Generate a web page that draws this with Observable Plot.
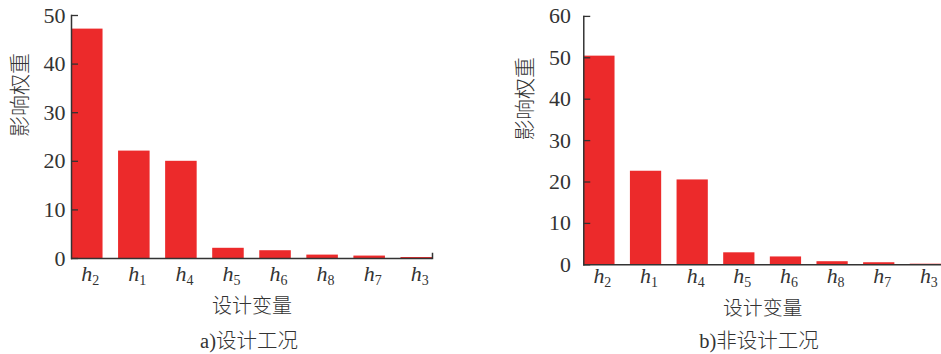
<!DOCTYPE html>
<html>
<head>
<meta charset="utf-8">
<script src="https://cdn.jsdelivr.net/npm/d3@7"></script>
<script src="https://cdn.jsdelivr.net/npm/@observablehq/plot@0.6"></script>
<style>
  html, body { margin: 0; padding: 0; background: #fff; }
  #wrap { position: relative; width: 941px; height: 354px; overflow: hidden; background: #fff; }
  .panel { position: absolute; top: 0; }
  .cap { position: absolute; top: 328px; font-size: 20.5px; line-height: 22px; color: #333; white-space: nowrap;
         transform: translateX(-50%); font-family: "Liberation Serif", "Noto Sans CJK SC", serif; }
  .cap .zh { font-family: "Noto Sans CJK SC", sans-serif; font-weight: 300; }
</style>
</head>
<body>
<div id="wrap">
  <div class="panel" id="pa" style="left:0px"></div>
  <div class="panel" id="pb" style="left:470px"></div>
  <div class="cap" style="left:249px">a)<span class="zh">设计工况</span></div>
  <div class="cap" style="left:759px">b)<span class="zh">非设计工况</span></div>
</div>
<script>
const categories = ["h2", "h1", "h4", "h5", "h6", "h8", "h7", "h3"];
const designValues = [47.2, 22.1, 20.0, 2.1, 1.6, 0.7, 0.5, 0.2];
const offDesignValues = [50.4, 22.6, 20.5, 2.9, 1.9, 0.75, 0.5, 0.15];
const yTicksA = [0, 10, 20, 30, 40, 50];
const yTicksB = [0, 10, 20, 30, 40, 50, 60];
const yLabel = "影响权重";
const xLabel = "设计变量";

const RED = "#ec2a2b";
const INK = "#333";
const CJK = "Noto Sans CJK SC";

function panel({values, yMax, yTicks, width, height, mL, mR, mT, mB, tickPad, xPad, yLabDx, xLabDy, endTick}) {
  const data = categories.map((c, i) => ({c, v: values[i]}));
  const plotH = height - mT - mB;
  const marks = [
    Plot.barY(data, {x: "c", y: "v", fill: RED}),
    Plot.axisY({ticks: yTicks, tickSize: -7, tickPadding: tickPad, stroke: INK, strokeWidth: 1.3, fill: INK, fontSize: 22, label: null}),
    Plot.axisX({tickSize: 0, tickPadding: xPad, fill: INK, fontSize: 22, label: null, dx: 3}),
    Plot.ruleY([0], {stroke: INK, strokeWidth: 1.5}),
    Plot.frame({anchor: "left", stroke: INK, strokeWidth: 1.5}),
    Plot.text([yLabel], {frameAnchor: "left", dx: yLabDx, rotate: -90, lineAnchor: "middle", fontSize: 21, fill: INK, fontFamily: CJK, fontWeight: 300}),
    Plot.text([xLabel], {frameAnchor: "bottom", dy: xLabDy, lineAnchor: "middle", fontSize: 20, fill: INK, fontFamily: CJK, fontWeight: 300})
  ];
  if (endTick) marks.push(Plot.frame({anchor: "right", insetTop: plotH - 5, stroke: INK, strokeWidth: 1.5}));
  const svg = Plot.plot({
    width, height,
    marginLeft: mL, marginRight: mR, marginTop: mT, marginBottom: mB,
    style: {fontFamily: "Liberation Serif", fontSize: "22px", color: INK, background: "transparent", overflow: "visible"},
    x: {domain: categories, paddingInner: 0.33, paddingOuter: 0, round: false, label: null},
    y: {domain: [0, yMax], label: null},
    marks
  });
  // subscript formatting for the category tick labels
  d3.select(svg).selectAll('g[aria-label="x-axis tick label"] text').each(function() {
    const t = this.textContent;
    const sel = d3.select(this);
    sel.text(null);
    sel.append("tspan").attr("font-style", "italic").text(t[0]);
    sel.append("tspan").attr("font-size", "14px").attr("dy", "0.3em").text(t.slice(1));
  });
  return svg;
}

document.getElementById("pa").appendChild(panel({
  values: designValues, yMax: 50, yTicks: yTicksA,
  width: 470, height: 320, mL: 71, mR: 38, mT: 15, mB: 62,
  tickPad: 13, xPad: 7, yLabDx: -51, xLabDy: 48, endTick: true
}));
document.getElementById("pb").appendChild(panel({
  values: offDesignValues, yMax: 60, yTicks: yTicksB,
  width: 474, height: 320, mL: 114, mR: 0, mT: 16, mB: 54,
  tickPad: 20, xPad: 3, yLabDx: -59, xLabDy: 44, endTick: false
}));
</script>
</body>
</html>
